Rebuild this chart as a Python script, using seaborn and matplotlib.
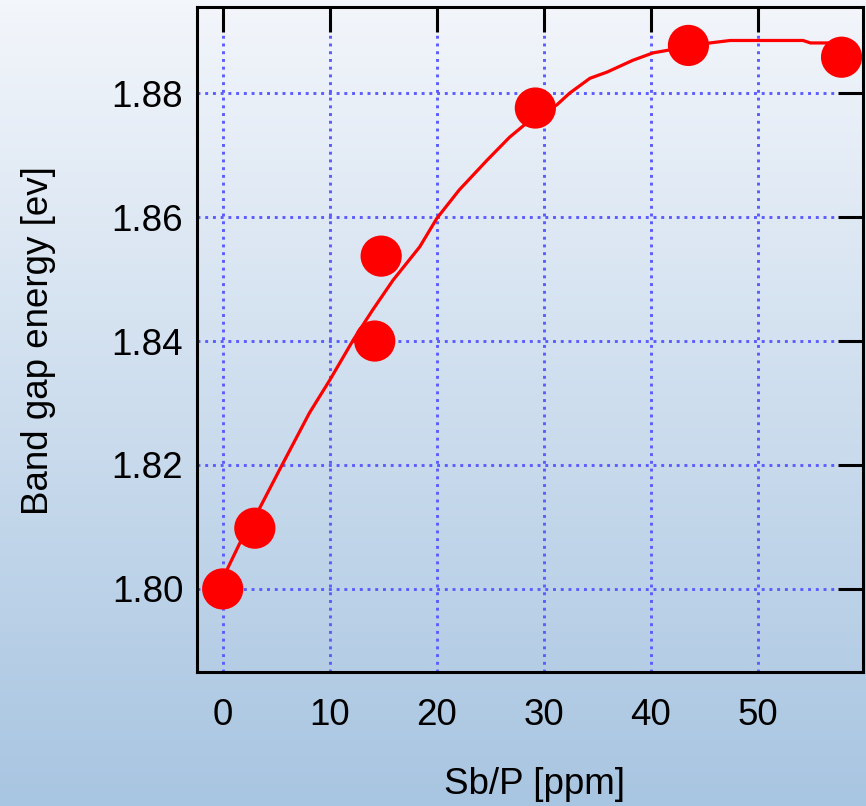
import numpy as np
import pandas as pd
import matplotlib
matplotlib.use("Agg")
import matplotlib.pyplot as plt
import seaborn as sns

# measured points
sb_ppm = [0.0, 3.0, 14.2, 14.8, 29.2, 43.5, 57.8]
band_gap = [1.800, 1.8098, 1.8400, 1.8537, 1.8776, 1.8877, 1.8858]

# fitted curve
fit_x = [0.0, 0.4, 1.6, 3.5, 5.3, 8.1, 10.0, 12.2, 14.0, 15.9, 18.4, 20.0, 22.1,
         24.7, 26.8, 28.4, 31.2, 32.4, 34.3, 35.9, 38.3, 40.2, 41.5, 45.5, 47.4,
         54.2, 54.9, 57.9]
fit_y = [1.8000, 1.8031, 1.8074, 1.8132, 1.8192, 1.8284, 1.8337, 1.8402, 1.8450,
         1.8498, 1.8552, 1.8598, 1.8644, 1.8692, 1.8729, 1.8752, 1.8781, 1.8800,
         1.8824, 1.8834, 1.8853, 1.8865, 1.8869, 1.8881, 1.8885, 1.8885, 1.8881,
         1.8881]

x_ticks = [0, 10, 20, 30, 40, 50]
y_ticks = [1.80, 1.82, 1.84, 1.86, 1.88]
y_tick_labels = ["1.80", "1.82", "1.84", "1.86", "1.88"]

sns.set_theme(style="white")
plt.rcParams['font.family'] = ['Liberation Sans', 'DejaVu Sans']
plt.rcParams['text.color'] = 'black'
plt.rcParams['axes.labelcolor'] = 'black'
plt.rcParams['xtick.color'] = 'black'
plt.rcParams['ytick.color'] = 'black'

fig = plt.figure(figsize=(8.66, 8.06), dpi=100)

# gradient background
bg = fig.add_axes([0, 0, 1, 1], zorder=0)
top_c = np.array([243, 246, 251]) / 255.0
bot_c = np.array([168, 197, 225]) / 255.0
t = np.linspace(0, 1, 256)[:, None]
grad = (top_c[None, :] * (1 - t) + bot_c[None, :] * t)[:, None, :]
bg.imshow(grad, aspect='auto', extent=[0, 1, 0, 1], origin='upper')
bg.set_axis_off()

ax = fig.add_axes([0.2275, 0.1663, 0.769, 0.825], zorder=1)
ax.set_facecolor('none')

df_fit = pd.DataFrame({"x": fit_x, "y": fit_y})
df_pts = pd.DataFrame({"x": sb_ppm, "y": band_gap})
sns.lineplot(data=df_fit, x="x", y="y", ax=ax, color="#ff0000", linewidth=2.3,
             sort=False, zorder=3)
sns.scatterplot(data=df_pts, x="x", y="y", ax=ax, color="#ff0000", s=880,
                edgecolor='none', linewidth=0, zorder=4, clip_on=False)

ax.set_xlim(-2.4, 59.8)
ax.set_ylim(1.7866, 1.8939)
ax.set_xticks(x_ticks)
ax.set_yticks(y_ticks)
ax.set_yticklabels(y_tick_labels)

ax.grid(True, color="#5c5cff", linestyle=':', linewidth=2.1)
ax.set_axisbelow(True)

for sp in ax.spines.values():
    sp.set_visible(True)
    sp.set_color('black')
    sp.set_linewidth(2.2)

ax.tick_params(axis='both', which='major', direction='in', length=18, width=2.2,
               color='black', labelcolor='black', top=True, right=True,
               labelsize=26.5)
ax.tick_params(axis='x', pad=19)
ax.tick_params(axis='y', pad=10)

ax.set_xlabel("Sb/P [ppm]", fontsize=26.5, color='black')
ax.set_ylabel("Band gap energy [ev]", fontsize=26.5, color='black')
ax.xaxis.set_label_coords(0.5075, -0.143)
ax.yaxis.set_label_coords(-0.212, 0.499)
ax.xaxis.label.set_va('top')

fig.savefig("out.png", dpi=100)
